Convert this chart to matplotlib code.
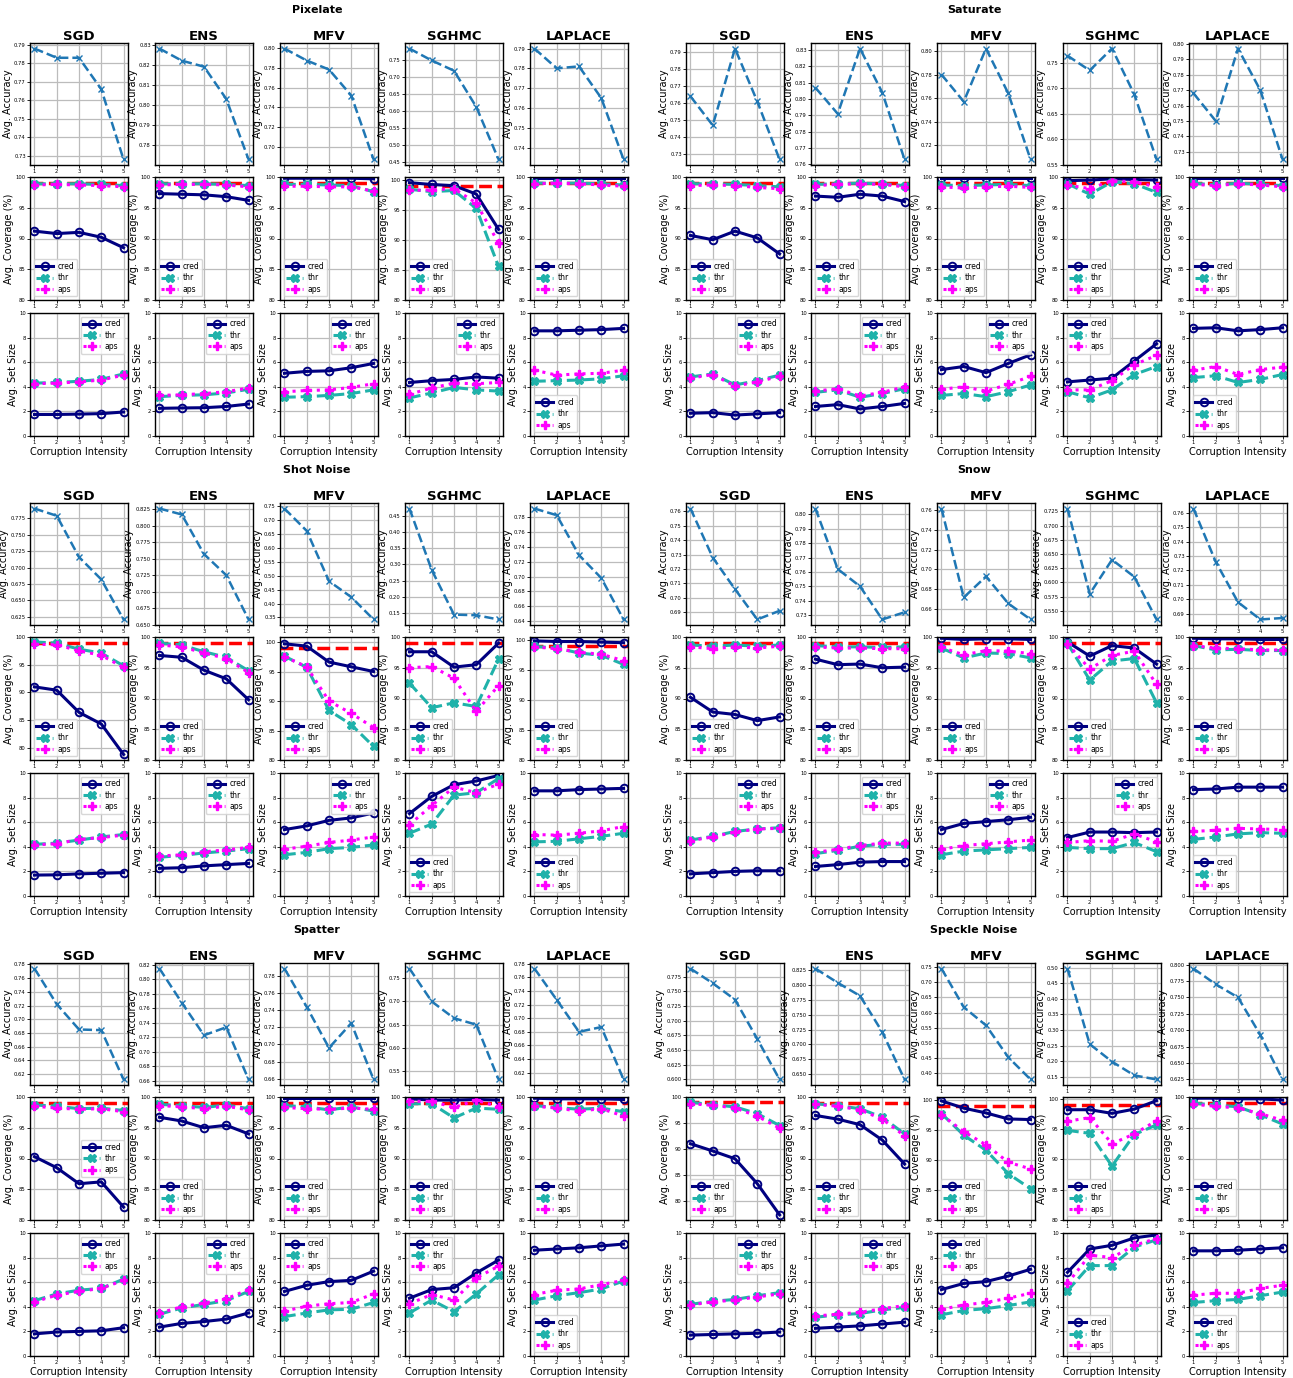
import numpy as np
import matplotlib
matplotlib.use('Agg')
import matplotlib.pyplot as plt
from matplotlib.ticker import MaxNLocator

plt.rcParams['font.family'] = 'DejaVu Sans'

methods = ['SGD', 'ENS', 'MFV', 'SGHMC', 'LAPLACE']
intensity = [1, 2, 3, 4, 5]
target_cov = 99  # 1 - alpha, in %

# rows of each list follow `methods`

###### Pixelate
pix_acc = [[0.788, 0.783, 0.783, 0.766, 0.728],
           [0.828, 0.822, 0.819, 0.803, 0.773],
           [0.799, 0.787, 0.778, 0.752, 0.688],
           [0.783, 0.748, 0.718, 0.612, 0.458],
           [0.790, 0.780, 0.781, 0.765, 0.734]]
pix_cov_cred = [[91.2, 90.8, 91.0, 90.2, 88.5],
                [97.3, 97.2, 97.1, 96.8, 96.2],
                [99.8, 99.8, 99.8, 99.8, 99.7],
                [99.6, 99.3, 99.1, 97.7, 91.8],
                [99.8, 99.8, 99.8, 99.8, 99.8]]
pix_cov_thr = [[98.9, 98.9, 98.9, 98.8, 98.6],
               [98.9, 98.9, 98.9, 98.8, 98.6],
               [98.8, 98.8, 98.7, 98.6, 97.6],
               [98.5, 98.1, 98.3, 95.3, 85.6],
               [99.0, 99.0, 99.0, 98.9, 98.7]]
pix_cov_aps = [[98.7, 98.8, 98.7, 98.6, 98.4],
               [98.7, 98.8, 98.8, 98.7, 98.4],
               [98.5, 98.5, 98.4, 98.4, 97.7],
               [98.3, 98.4, 98.6, 96.2, 89.5],
               [98.9, 99.0, 98.9, 98.7, 98.5]]
pix_set_cred = [[1.75, 1.75, 1.78, 1.82, 1.95],
                [2.25, 2.28, 2.30, 2.40, 2.60],
                [5.10, 5.25, 5.30, 5.55, 5.90],
                [4.35, 4.50, 4.60, 4.80, 4.70],
                [8.55, 8.55, 8.60, 8.65, 8.75]]
pix_set_thr = [[4.30, 4.35, 4.45, 4.60, 5.05],
               [3.20, 3.30, 3.35, 3.50, 3.80],
               [3.15, 3.20, 3.30, 3.45, 3.75],
               [3.10, 3.50, 3.95, 3.75, 3.65],
               [4.45, 4.50, 4.55, 4.65, 4.90]]
pix_set_aps = [[4.25, 4.30, 4.40, 4.55, 4.95],
               [3.30, 3.35, 3.45, 3.60, 3.90],
               [3.60, 3.70, 3.75, 3.95, 4.25],
               [3.40, 3.90, 4.30, 4.25, 4.35],
               [5.35, 4.95, 5.05, 5.10, 5.35]]

###### Saturate
sat_acc = [[0.764, 0.747, 0.792, 0.761, 0.727],
           [0.807, 0.791, 0.831, 0.804, 0.763],
           [0.780, 0.757, 0.802, 0.764, 0.708],
           [0.764, 0.735, 0.778, 0.688, 0.560],
           [0.768, 0.750, 0.797, 0.770, 0.725]]
sat_cov_cred = [[90.5, 89.8, 91.2, 90.1, 87.5],
                [96.9, 96.7, 97.2, 96.9, 96.0],
                [99.8, 99.8, 99.8, 99.8, 99.8],
                [99.4, 99.5, 99.7, 99.6, 99.5],
                [99.8, 99.8, 99.8, 99.8, 99.8]]
sat_cov_thr = [[98.9, 98.9, 98.8, 98.6, 98.4],
               [98.8, 98.9, 99.0, 98.9, 98.6],
               [98.7, 98.6, 98.7, 98.8, 98.6],
               [98.9, 97.2, 99.2, 98.9, 97.5],
               [99.0, 98.7, 99.0, 98.8, 98.6]]
sat_cov_aps = [[98.6, 98.7, 98.6, 98.3, 98.1],
               [98.6, 98.8, 98.9, 98.8, 98.4],
               [98.4, 98.2, 98.4, 98.5, 98.3],
               [98.7, 98.1, 99.4, 99.2, 98.4],
               [98.8, 98.6, 98.9, 98.7, 98.4]]
sat_set_cred = [[1.85, 1.90, 1.70, 1.80, 1.90],
                [2.40, 2.55, 2.20, 2.40, 2.65],
                [5.40, 5.65, 5.15, 5.90, 6.60],
                [4.40, 4.55, 4.70, 6.10, 7.50],
                [8.75, 8.80, 8.55, 8.65, 8.80]]
sat_set_thr = [[4.80, 5.05, 4.15, 4.50, 4.95],
               [3.55, 3.75, 3.15, 3.45, 3.85],
               [3.30, 3.45, 3.20, 3.60, 4.15],
               [3.60, 3.10, 3.75, 5.00, 5.65],
               [4.75, 4.90, 4.35, 4.60, 5.00]]
sat_set_aps = [[4.70, 5.00, 4.05, 4.40, 4.85],
               [3.65, 3.85, 3.25, 3.55, 4.00],
               [3.80, 4.00, 3.65, 4.20, 4.85],
               [3.75, 3.75, 4.50, 5.80, 6.55],
               [5.35, 5.65, 5.00, 5.40, 5.60]]

###### Shot Noise
shot_acc = [[0.790, 0.779, 0.716, 0.682, 0.621],
            [0.826, 0.817, 0.757, 0.725, 0.658],
            [0.740, 0.660, 0.480, 0.423, 0.343],
            [0.473, 0.283, 0.145, 0.143, 0.130],
            [0.792, 0.783, 0.729, 0.698, 0.642]]
shot_cov_cred = [[91.0, 90.4, 86.4, 84.3, 78.8],
                 [97.0, 96.7, 94.6, 93.2, 89.8],
                 [99.7, 99.3, 96.6, 95.8, 95.0],
                 [97.6, 97.6, 95.1, 95.5, 99.0],
                 [99.8, 99.7, 99.7, 99.6, 99.5]]
shot_cov_thr = [[99.1, 98.9, 97.8, 97.1, 94.8],
                [99.0, 98.7, 97.6, 96.7, 94.5],
                [97.6, 95.7, 88.4, 86.0, 82.3],
                [92.5, 88.5, 89.3, 88.7, 96.4],
                [98.9, 98.6, 97.8, 97.4, 95.9]]
shot_cov_aps = [[98.7, 98.6, 97.5, 96.7, 94.5],
                [98.7, 98.4, 97.4, 96.5, 94.2],
                [97.5, 95.8, 90.0, 87.9, 85.5],
                [95.0, 95.2, 93.3, 87.9, 92.1],
                [98.8, 98.5, 97.9, 97.6, 96.5]]
shot_set_cred = [[1.70, 1.72, 1.80, 1.85, 1.90],
                 [2.25, 2.30, 2.45, 2.55, 2.65],
                 [5.40, 5.70, 6.15, 6.35, 6.75],
                 [6.70, 8.10, 9.05, 9.35, 9.80],
                 [8.55, 8.55, 8.65, 8.70, 8.75]]
shot_set_thr = [[4.20, 4.30, 4.55, 4.80, 5.00],
                [3.15, 3.30, 3.50, 3.65, 3.85],
                [3.35, 3.55, 3.85, 3.95, 4.15],
                [5.10, 5.85, 8.20, 8.40, 9.55],
                [4.40, 4.45, 4.65, 4.85, 5.10]]
shot_set_aps = [[4.15, 4.25, 4.60, 4.75, 4.95],
                [3.25, 3.35, 3.60, 3.75, 3.95],
                [3.80, 4.05, 4.35, 4.55, 4.80],
                [5.80, 7.35, 8.85, 8.40, 9.10],
                [5.00, 4.95, 5.10, 5.30, 5.65]]

###### Snow
snow_acc = [[0.762, 0.728, 0.706, 0.685, 0.691],
            [0.804, 0.762, 0.750, 0.727, 0.732],
            [0.761, 0.672, 0.693, 0.666, 0.650],
            [0.730, 0.580, 0.640, 0.610, 0.535],
            [0.763, 0.726, 0.698, 0.686, 0.687]]
snow_cov_cred = [[90.2, 87.8, 87.4, 86.4, 87.0],
                 [96.4, 95.5, 95.6, 95.0, 95.1],
                 [99.8, 99.6, 99.7, 99.7, 99.6],
                 [99.2, 96.9, 98.6, 98.2, 95.6],
                 [99.8, 99.7, 99.7, 99.6, 99.6]]
snow_cov_thr = [[98.7, 98.5, 98.7, 98.5, 98.7],
                [98.6, 98.4, 98.4, 98.3, 98.4],
                [98.2, 96.6, 97.4, 97.3, 96.6],
                [99.0, 93.0, 96.1, 96.5, 89.3],
                [98.6, 97.9, 98.0, 97.8, 97.8]]
snow_cov_aps = [[98.4, 98.1, 98.4, 98.2, 98.5],
                [98.4, 98.2, 98.2, 98.1, 98.1],
                [98.3, 97.1, 97.8, 97.7, 97.3],
                [98.9, 94.8, 97.0, 97.7, 92.3],
                [98.6, 98.2, 98.1, 97.9, 97.9]]
snow_set_cred = [[1.80, 1.90, 2.00, 2.05, 2.05],
                 [2.40, 2.55, 2.75, 2.80, 2.80],
                 [5.40, 5.90, 6.05, 6.20, 6.40],
                 [4.75, 5.20, 5.20, 5.15, 5.20],
                 [8.65, 8.70, 8.85, 8.85, 8.85]]
snow_set_thr = [[4.55, 4.85, 5.25, 5.45, 5.55],
                [3.45, 3.70, 4.05, 4.20, 4.20],
                [3.35, 3.65, 3.75, 3.85, 3.95],
                [3.95, 3.85, 3.85, 4.35, 3.60],
                [4.60, 4.80, 5.05, 5.15, 5.10]]
snow_set_aps = [[4.50, 4.80, 5.20, 5.45, 5.50],
                [3.55, 3.80, 4.10, 4.30, 4.30],
                [3.80, 4.10, 4.25, 4.40, 4.55],
                [4.35, 4.50, 4.45, 5.05, 4.40],
                [5.25, 5.35, 5.50, 5.45, 5.40]]

###### Spatter
spat_acc = [[0.774, 0.722, 0.685, 0.684, 0.612],
            [0.815, 0.768, 0.723, 0.734, 0.662],
            [0.789, 0.744, 0.696, 0.725, 0.659],
            [0.771, 0.700, 0.664, 0.650, 0.532],
            [0.773, 0.727, 0.680, 0.687, 0.610]]
spat_cov_cred = [[90.3, 88.5, 85.9, 86.2, 82.1],
                 [96.7, 96.1, 95.0, 95.4, 94.0],
                 [99.8, 99.8, 99.8, 99.8, 99.8],
                 [99.7, 99.5, 99.5, 99.6, 99.5],
                 [99.8, 99.7, 99.7, 99.7, 99.6]]
spat_cov_thr = [[98.7, 98.5, 98.1, 98.2, 97.8],
                [98.8, 98.6, 98.3, 98.7, 98.1],
                [98.6, 98.4, 97.9, 98.4, 97.7],
                [98.9, 98.9, 96.6, 98.2, 98.0],
                [98.6, 98.3, 98.0, 98.2, 97.6]]
spat_cov_aps = [[98.5, 98.2, 98.0, 98.1, 97.6],
                [98.6, 98.4, 98.1, 98.5, 97.9],
                [98.3, 98.1, 98.0, 98.2, 98.0],
                [99.3, 99.3, 98.3, 99.5, 98.4],
                [98.5, 98.2, 97.7, 98.1, 96.9]]
spat_set_cred = [[1.80, 1.95, 2.00, 2.05, 2.30],
                 [2.35, 2.65, 2.80, 3.00, 3.50],
                 [5.25, 5.75, 6.05, 6.15, 6.90],
                 [4.70, 5.40, 5.55, 6.75, 7.80],
                 [8.60, 8.70, 8.80, 8.95, 9.10]]
spat_set_thr = [[4.50, 5.05, 5.35, 5.50, 6.25],
                [3.40, 3.90, 4.20, 4.50, 5.25],
                [3.20, 3.50, 3.75, 3.80, 4.35],
                [3.50, 4.55, 3.60, 5.05, 6.60],
                [4.55, 4.90, 5.15, 5.45, 6.10]]
spat_set_aps = [[4.40, 4.95, 5.25, 5.50, 6.15],
                [3.50, 4.00, 4.30, 4.65, 5.40],
                [3.65, 4.05, 4.25, 4.35, 5.05],
                [4.25, 5.00, 4.55, 6.35, 7.30],
                [5.00, 5.35, 5.45, 5.80, 6.15]]

###### Speckle Noise
spec_acc = [[0.789, 0.764, 0.736, 0.669, 0.600],
            [0.828, 0.804, 0.782, 0.721, 0.641],
            [0.745, 0.618, 0.558, 0.453, 0.380],
            [0.497, 0.255, 0.199, 0.155, 0.142],
            [0.794, 0.770, 0.750, 0.693, 0.625]]
spec_cov_cred = [[91.0, 89.6, 88.1, 83.3, 77.3],
                 [97.0, 96.4, 95.5, 93.0, 89.1],
                 [99.8, 98.6, 97.8, 96.8, 96.7],
                 [98.2, 98.2, 97.6, 98.3, 99.7],
                 [99.8, 99.8, 99.7, 99.7, 99.5]]
spec_cov_thr = [[99.0, 98.5, 98.1, 96.8, 94.5],
                [98.9, 98.6, 98.1, 96.7, 94.0],
                [97.7, 94.1, 91.6, 87.7, 85.2],
                [94.8, 94.3, 88.9, 94.1, 95.7],
                [99.0, 98.7, 98.4, 97.1, 95.6]]
spec_cov_aps = [[98.7, 98.4, 97.9, 96.3, 94.0],
                [98.8, 98.5, 97.9, 96.4, 93.7],
                [97.5, 94.7, 92.5, 89.6, 88.5],
                [96.3, 96.9, 92.6, 94.2, 96.4],
                [98.8, 98.5, 98.2, 97.3, 96.2]]
spec_set_cred = [[1.70, 1.75, 1.80, 1.85, 1.95],
                 [2.25, 2.35, 2.45, 2.60, 2.75],
                 [5.40, 5.90, 6.05, 6.50, 7.05],
                 [6.80, 8.70, 9.00, 9.60, 9.85],
                 [8.55, 8.55, 8.60, 8.70, 8.80]]
spec_set_thr = [[4.20, 4.45, 4.60, 4.90, 5.15],
                [3.15, 3.35, 3.45, 3.75, 3.95],
                [3.35, 3.70, 3.85, 4.10, 4.40],
                [5.30, 7.35, 7.35, 8.85, 9.45],
                [4.35, 4.50, 4.60, 4.90, 5.20]]
spec_set_aps = [[4.15, 4.40, 4.55, 4.80, 5.05],
                [3.25, 3.40, 3.55, 3.85, 4.10],
                [3.80, 4.15, 4.35, 4.70, 5.10],
                [5.90, 8.20, 8.00, 9.00, 9.55],
                [4.95, 5.10, 5.10, 5.50, 5.75]]

corruptions = ['Pixelate', 'Saturate', 'Shot Noise', 'Snow', 'Spatter', 'Speckle Noise']
tables = {
    'Pixelate': (pix_acc, pix_cov_cred, pix_cov_thr, pix_cov_aps, pix_set_cred, pix_set_thr, pix_set_aps),
    'Saturate': (sat_acc, sat_cov_cred, sat_cov_thr, sat_cov_aps, sat_set_cred, sat_set_thr, sat_set_aps),
    'Shot Noise': (shot_acc, shot_cov_cred, shot_cov_thr, shot_cov_aps, shot_set_cred, shot_set_thr, shot_set_aps),
    'Snow': (snow_acc, snow_cov_cred, snow_cov_thr, snow_cov_aps, snow_set_cred, snow_set_thr, snow_set_aps),
    'Spatter': (spat_acc, spat_cov_cred, spat_cov_thr, spat_cov_aps, spat_set_cred, spat_set_thr, spat_set_aps),
    'Speckle Noise': (spec_acc, spec_cov_cred, spec_cov_thr, spec_cov_aps, spec_set_cred, spec_set_thr, spec_set_aps),
}

# coverage panels whose y range reaches a bit above 100
cov_top = {('Pixelate', 'SGHMC'): 100.55, ('Shot Noise', 'MFV'): 100.85,
           ('Shot Noise', 'LAPLACE'): 100.45, ('Speckle Noise', 'MFV'): 100.45,
           ('Speckle Noise', 'SGHMC'): 100.3}
# legend placement
cov_leg = {('Spatter', 'SGD'): 'center right'}
set_leg = {('Saturate', 'SGHMC'): 'upper left', ('Shot Noise', 'SGHMC'): 'lower left',
           ('Spatter', 'MFV'): 'upper left', ('Spatter', 'SGHMC'): 'upper left',
           ('Speckle Noise', 'MFV'): 'upper left', ('Speckle Noise', 'SGHMC'): 'lower left'}

##########################
## layout (pixels)
##########################
W, H = 1293, 1378
fig = plt.figure(figsize=(W / 100, H / 100), dpi=100)

block_left = [[30, 155, 280, 405, 530], [686, 811, 937, 1063, 1189]]
title_x = [317, 974]
group_top = [0, 460, 920]
row_span = [(43, 165), (177, 300), (313, 436)]
ax_w = 98


def add_px_axes(x0, y0, y1):
    return fig.add_axes([x0 / W, 1 - y1 / H, ax_w / W, (y1 - y0) / H])


def style(ax):
    ax.grid(True, color='#bcbcbc', lw=0.9)
    ax.set_axisbelow(True)
    ax.tick_params(labelsize=3.8, length=2, width=0.6, pad=1)
    for s in ax.spines.values():
        s.set_linewidth(1.0)
        s.set_color('black')
    ax.set_xticks(intensity)


line_kw = dict(
    cred=dict(color='navy', ls='-', marker='o', mfc='none', mew=1.4, ms=5.5, lw=2.2),
    thr=dict(color='lightseagreen', ls='--', marker='X', ms=6, lw=2.2),
    aps=dict(color='magenta', ls=':', marker='P', ms=6, lw=2.2),
)
leg_kw = dict(fontsize=5.5, borderpad=0.35, labelspacing=0.3, handlelength=2.2,
              handletextpad=0.6, framealpha=0.85, edgecolor='#d0d0d0', fancybox=True)

for g, name in enumerate(corruptions):
    blk = g % 2
    top = group_top[g // 2]
    acc, cc, ct, ca, sc, st, sa = tables[name]
    fig.text(title_x[blk] / W, 1 - (top + 10) / H, name, ha='center', va='center',
             fontsize=8, fontweight='bold')
    for m, meth in enumerate(methods):
        x0 = block_left[blk][m]

        # accuracy
        ax = add_px_axes(x0, top + row_span[0][0], top + row_span[0][1])
        ax.plot(intensity, acc[m], color='#1f77b4', ls='--', marker='x', ms=4, mew=1.0, lw=1.8)
        ax.yaxis.set_major_locator(MaxNLocator(nbins=9, steps=[1, 2, 2.5, 5, 10]))
        ax.set_title(meth, fontsize=9.5, fontweight='bold', pad=1.5)
        ax.set_ylabel('Avg. Accuracy', fontsize=7, labelpad=1)
        style(ax)

        # coverage
        ax = add_px_axes(x0, top + row_span[1][0], top + row_span[1][1])
        ax.plot(intensity, cc[m], label='cred', **line_kw['cred'])
        ax.plot(intensity, ct[m], label='thr', **line_kw['thr'])
        ax.plot(intensity, ca[m], label='aps', **line_kw['aps'])
        ax.axhline(target_cov, color='red', ls='--', lw=2.5, zorder=1.5)
        lo = min(80, min(cc[m] + ct[m] + ca[m]) - 1)
        ax.set_ylim(lo, cov_top.get((name, meth), 100))
        ax.set_yticks([80, 85, 90, 95, 100])
        ax.set_ylabel('Avg. Coverage (%)', fontsize=7, labelpad=1)
        style(ax)
        ax.legend(loc=cov_leg.get((name, meth), 'lower left'), **leg_kw)

        # set size
        ax = add_px_axes(x0, top + row_span[2][0], top + row_span[2][1])
        ax.plot(intensity, sc[m], label='cred', **line_kw['cred'])
        ax.plot(intensity, st[m], label='thr', **line_kw['thr'])
        ax.plot(intensity, sa[m], label='aps', **line_kw['aps'])
        ax.set_ylim(0, 10)
        ax.set_yticks([0, 2, 4, 6, 8, 10])
        ax.set_ylabel('Avg. Set Size', fontsize=7, labelpad=1)
        ax.set_xlabel('Corruption Intensity', fontsize=7, labelpad=1)
        style(ax)
        default_loc = 'lower left' if meth == 'LAPLACE' else 'upper right'
        ax.legend(loc=set_leg.get((name, meth), default_loc), **leg_kw)

fig.savefig('out.png', dpi=100)
